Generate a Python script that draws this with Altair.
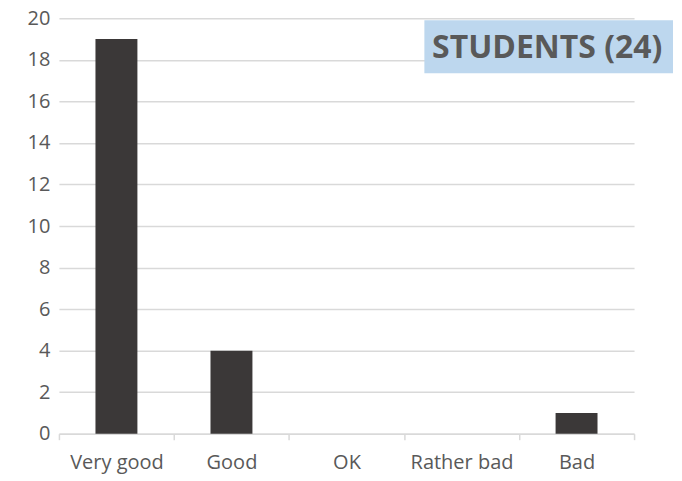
import altair as alt
import pandas as pd

categories = ["Very good", "Good", "OK", "Rather bad", "Bad"]
counts = [19, 4, 0, 0, 1]
title_text = "STUDENTS (24)"

df = pd.DataFrame({"category": categories, "count": counts})

FONT = "Open Sans"
GRAY = "#595959"
GRID = "#d9d9d9"

bars = alt.Chart(df).mark_bar(size=42, color="#3b3838").encode(
    x=alt.X("category:N", sort=categories, title=None,
            scale=alt.Scale(paddingInner=0, paddingOuter=0),
            axis=alt.Axis(labelAngle=0, tickBand="extent", tickColor=GRID, tickSize=6, tickWidth=1.5,
                          domainColor=GRID, domainWidth=1.5, labelColor=GRAY, labelFontSize=20,
                          labelFont=FONT, labelPadding=13, grid=False)),
    y=alt.Y("count:Q", title=None, scale=alt.Scale(domain=[0, 20]),
            axis=alt.Axis(values=list(range(0, 21, 2)), domain=False, ticks=False,
                          gridColor=GRID, gridWidth=1.5, labelColor=GRAY, labelFontSize=20,
                          labelFont=FONT, labelPadding=9)),
)

box = alt.Chart(pd.DataFrame({"t": [title_text]})).mark_rect(color="#bdd7ee").encode(
    x=alt.value(366), x2=alt.value(615), y=alt.value(2), y2=alt.value(55)
)
label = alt.Chart(pd.DataFrame({"t": [title_text]})).mark_text(
    font=FONT, fontSize=32, fontWeight="bold", color=GRAY, align="center", baseline="middle"
).encode(x=alt.value(489), y=alt.value(30), text="t:N")

chart = alt.layer(bars, box, label).properties(
    width=576, height=416,
    autosize=alt.AutoSizeParams(type="none"),
    padding={"left": 51, "top": 10, "right": 40, "bottom": 40},
).configure_view(stroke=None)

chart.save("out.html", embed_options={"renderer": "svg", "actions": False})
